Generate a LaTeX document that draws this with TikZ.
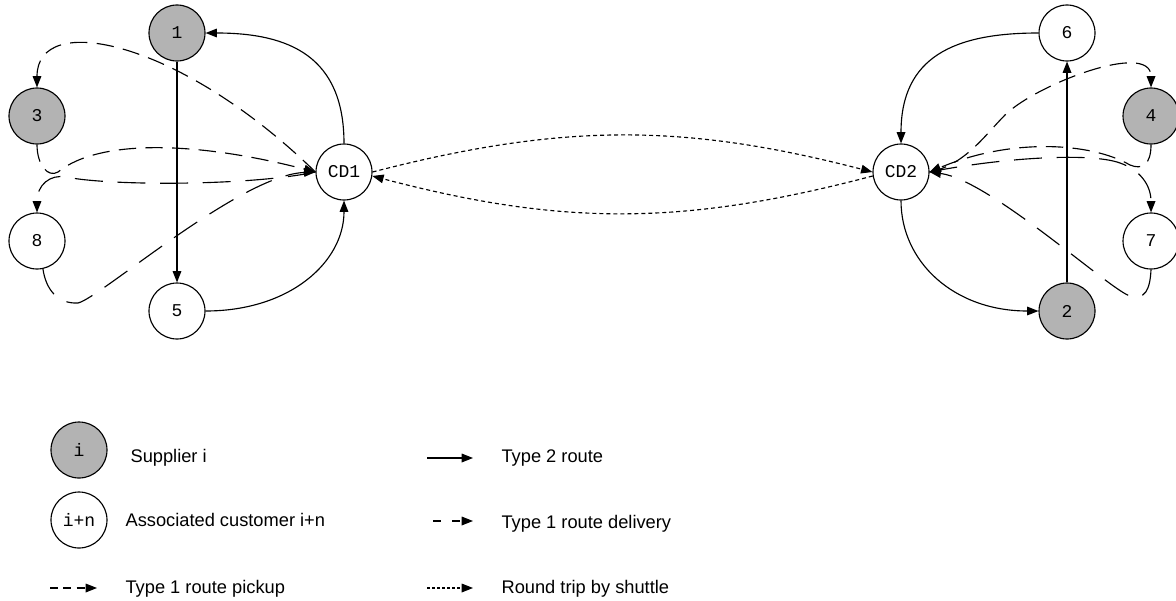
\documentclass[tikz,border=0pt]{standalone}
\usepackage{fontspec}
\setmainfont{Liberation Sans}
\newfontfamily\monof{Liberation Mono}
\usetikzlibrary{arrows.meta}
\definecolor{supgray}{RGB}{179,179,179}
\begin{document}
\begin{tikzpicture}[x=0.75pt,y=-0.75pt,line width=0.85pt,
  vtx/.style={circle,draw,line width=0.85pt,minimum size=42pt,inner sep=0pt,font=\monof\fontsize{13.5pt}{16pt}\selectfont},
  sup/.style={vtx,fill=supgray},
  cust/.style={vtx,fill=white},
  tip/.style={-{Triangle[length=8.5pt,width=6.5pt]}},
  typetwo/.style={tip},
  pickup/.style={tip,dash pattern=on 13pt off 7pt},
  delivery/.style={tip,dash pattern=on 21pt off 11pt},
  shuttle/.style={tip,dash pattern=on 3pt off 2.25pt},
  pickuplg/.style={tip,dash pattern=on 6pt off 4pt},
  deliverylg/.style={tip,dash pattern=on 6pt off 8.25pt},
  shuttlelg/.style={tip,dash pattern=on 2.25pt off 1.5pt},
  lbl/.style={anchor=base west,inner sep=0pt,font=\fontsize{13.7pt}{16pt}\selectfont}]
\useasboundingbox (0,0) rectangle (1176,600);

% nodes
\node[sup]  (n1)  at (177,33)  {1};
\node[sup]  (n3)  at (37,116)  {3};
\node[cust] (n8)  at (37,241)  {8};
\node[cust] (n5)  at (177,311) {5};
\node[cust] (CD1) at (344,172) {CD1};
\node[cust] (CD2) at (901,172) {CD2};
\node[cust] (n6)  at (1067,33) {6};
\node[sup]  (n4)  at (1151,116) {4};
\node[cust] (n7)  at (1151,241) {7};
\node[sup]  (n2)  at (1067,311) {2};

% type 2 routes
\draw[typetwo] (CD1.north) .. controls (344,57) and (290,33) .. (n1.east);
\draw[typetwo] (n1.south) -- (n5.north);
\draw[typetwo] (n5.east) .. controls (290,311) and (344,262) .. (CD1.south);
\draw[typetwo] (n6.west) .. controls (954,33) and (901,57) .. (CD2.north);
\draw[typetwo] (CD2.south) .. controls (901,262) and (954,311) .. (n2.west);
\draw[typetwo] (n2.north) -- (n6.south);

% shuttle
\draw[shuttle] (CD1.east) .. controls (562,123) and (683,123) .. (CD2.west);
\draw[shuttle] (CD2.188) .. controls (683,226) and (562,226) .. (CD1.-8);

% left side type 1
\draw[pickup] (CD1.west) .. controls (180,40) and (37,10) .. (n3.north);
\draw[pickup] (n3.south) .. controls (37,165) and (48,178) .. (58,172)
   .. controls (100,138) and (200,142) .. (CD1.west);
\draw[delivery] (CD1.west) .. controls (250,186) and (110,186) .. (66,177)
   .. controls (50,174) and (37,185) .. (n8.north);
\draw[delivery] (n8.-78) .. controls (46,290) and (58,304) .. (78,303)
   .. controls (100,298) and (240,175) .. (CD1.west);

% right side type 1
\draw[pickup] (CD2.east) .. controls (965,165) and (985,135) .. (1005,115)
   .. controls (1035,85) and (1151,40) .. (n4.north);
\draw[pickup] (n4.south) .. controls (1151,165) and (1142,170) .. (1130,165)
   .. controls (1090,142) and (1010,138) .. (CD2.east);
\draw[delivery] (CD2.east) .. controls (1000,158) and (1090,152) .. (1120,163)
   .. controls (1140,170) and (1151,185) .. (n7.north);
\draw[delivery] (n7.south) .. controls (1150,290) and (1145,300) .. (1130,296)
   .. controls (1110,290) and (990,180) .. (CD2.east);

% legend
\node[sup]  (ls) at (79,450) {i};
\node[cust] (lc) at (79,520) {i+n};
\node[lbl] (tls) at (130,462) {Supplier i};
\node[lbl] (tlc) at (125,526) {Associated customer i+n};
\node[lbl] (tlp) at (125,593) {Type 1 route pickup};
\node[lbl] (tlt) at (501,462) {Type 2 route};
\node[lbl] (tld) at (501,528) {Type 1 route delivery};
\node[lbl] (tlr) at (501,593) {Round trip by shuttle};

\coordinate (pa) at (50,588);  \coordinate (pb) at (97,588);
\coordinate (ta) at (427,458); \coordinate (tb) at (473,458);
\coordinate (da) at (433,521); \coordinate (db) at (473,521);
\coordinate (sa) at (427,588); \coordinate (sb) at (473,588);
\draw[pickuplg] (pa) -- (pb);
\draw[typetwo] (ta) -- (tb);
\draw[deliverylg] (da) -- (db);
\draw[shuttlelg] (sa) -- (sb);
\end{tikzpicture}
\end{document}
